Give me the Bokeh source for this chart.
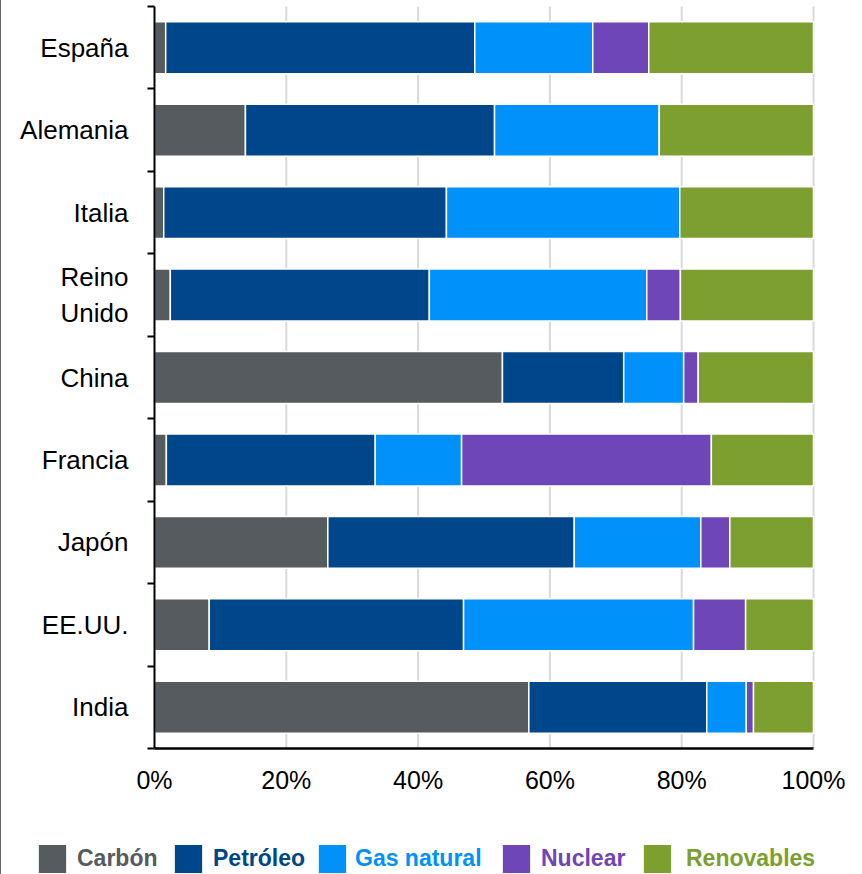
from bokeh.plotting import figure
from bokeh.models import (Range1d, FixedTicker, Legend, LegendItem, ColumnDataSource)
from bokeh.embed import file_html
from bokeh.resources import INLINE

# ---- data (percent share of primary energy) ----
categories = ["España", "Alemania", "Italia", "Reino\nUnido", "China",
              "Francia", "Japón", "EE.UU.", "India"]
series = ["Carbón", "Petróleo", "Gas natural", "Nuclear", "Renovables"]
carbon = [1.7, 13.8, 1.4, 2.4, 52.8, 1.8, 26.3, 8.3, 56.8]
petroleo = [46.9, 37.8, 42.9, 39.3, 18.4, 31.7, 37.4, 38.6, 27.0]
gas = [17.9, 25.0, 35.4, 33.0, 9.1, 13.1, 19.2, 34.9, 6.0]
nuclear = [8.5, 0.0, 0.0, 5.1, 2.2, 37.9, 4.4, 7.9, 1.1]
renovables = [25.0, 23.4, 20.3, 20.2, 17.5, 15.5, 12.7, 10.3, 9.1]
x_ticks = [0, 20, 40, 60, 80, 100]
x_tick_labels = ["0%", "20%", "40%", "60%", "80%", "100%"]
colors = ["#555b5e", "#00468b", "#0092fa", "#6e46b8", "#7c9f30"]

n = len(categories)
ypos = [n - 0.5 - i for i in range(n)]
source = ColumnDataSource(dict(y=ypos, **{
    "Carbón": carbon, "Petróleo": petroleo, "Gas natural": gas,
    "Nuclear": nuclear, "Renovables": renovables}))

# ---- layout geometry (pixels on the canvas) ----
W, H = 861, 874
left_px, right_px = 153, 812      # 0% and 100%
top_px, bottom_px = 6, 748        # top of first band, x-axis line
xs = 100.0 / (right_px - left_px)
ys = n / (bottom_px - top_px)
x_range = Range1d(-left_px * xs, 100 + (W - right_px) * xs)
y_range = Range1d(-(H - bottom_px) * ys, n + top_px * ys)

p = figure(width=W, height=H, output_backend="svg", toolbar_location=None,
           x_range=x_range, y_range=y_range,
           min_border_left=0, min_border_right=0, min_border_top=0,
           min_border_bottom=0)
p.outline_line_color = None
p.background_fill_color = "white"
p.border_fill_color = "white"
p.styles = {"border-left": "1px solid #666666"}
p.xgrid.visible = False
p.ygrid.visible = False

# vertical grid lines, only over the band area
p.segment(x0=x_ticks[1:], y0=[0] * 5, x1=x_ticks[1:], y1=[n] * 5,
          line_color="#d9d9d9", line_width=2)

renderers = p.hbar_stack(series, y="y", height=0.63, color=colors,
                         line_color="white", line_width=1.5, source=source)

# x axis
xa = p.xaxis[0]
xa.fixed_location = 0
xa.bounds = (0, 100)
xa.ticker = FixedTicker(ticks=x_ticks, minor_ticks=[])
xa.major_label_overrides = {t: l for t, l in zip(x_ticks, x_tick_labels)}
xa.major_tick_out = 0
xa.major_tick_in = 0
xa.minor_tick_out = 0
xa.minor_tick_in = 0
xa.axis_line_color = "black"
xa.axis_line_width = 2.5
xa.major_label_standoff = 17
xa.major_label_text_font = "Liberation Sans"
xa.major_label_text_font_size = "25px"
xa.major_label_text_color = "black"

# y axis: labels at band centres, ticks at band boundaries
ya = p.yaxis[0]
ya.fixed_location = 0
ya.bounds = (0, n)
ya.ticker = FixedTicker(ticks=ypos, minor_ticks=list(range(n + 1)))
ya.major_label_overrides = {y: c for y, c in zip(ypos, categories)}
ya.major_tick_out = 0
ya.major_tick_in = 0
ya.minor_tick_out = 7
ya.minor_tick_in = 0
ya.minor_tick_line_color = "black"
ya.minor_tick_line_width = 2
ya.axis_line_color = "black"
ya.axis_line_width = 2
ya.major_label_standoff = 19
ya.major_label_text_font = "Liberation Sans"
ya.major_label_text_font_size = "26px"
ya.major_label_text_color = "black"

# legend: one per series so each label gets its own colour
leg_x = [33, 169, 313, 497, 638]
leg_gap = [7, 7, 5, 7, 11]
for name, r, c, lx, g in zip(series, renderers, colors, leg_x, leg_gap):
    leg = Legend(items=[LegendItem(label=name, renderers=[r])],
                 location=(lx, -3), orientation="horizontal",
                 glyph_width=36, glyph_height=37, label_standoff=g,
                 padding=0, margin=0, spacing=0,
                 border_line_color=None, background_fill_alpha=0,
                 label_text_font="Liberation Sans", label_text_font_style="bold",
                 label_text_font_size="23px", label_text_color=c,
                 label_height=37)
    p.add_layout(leg, "center")

open("out.html", "w").write(file_html(p, INLINE))
